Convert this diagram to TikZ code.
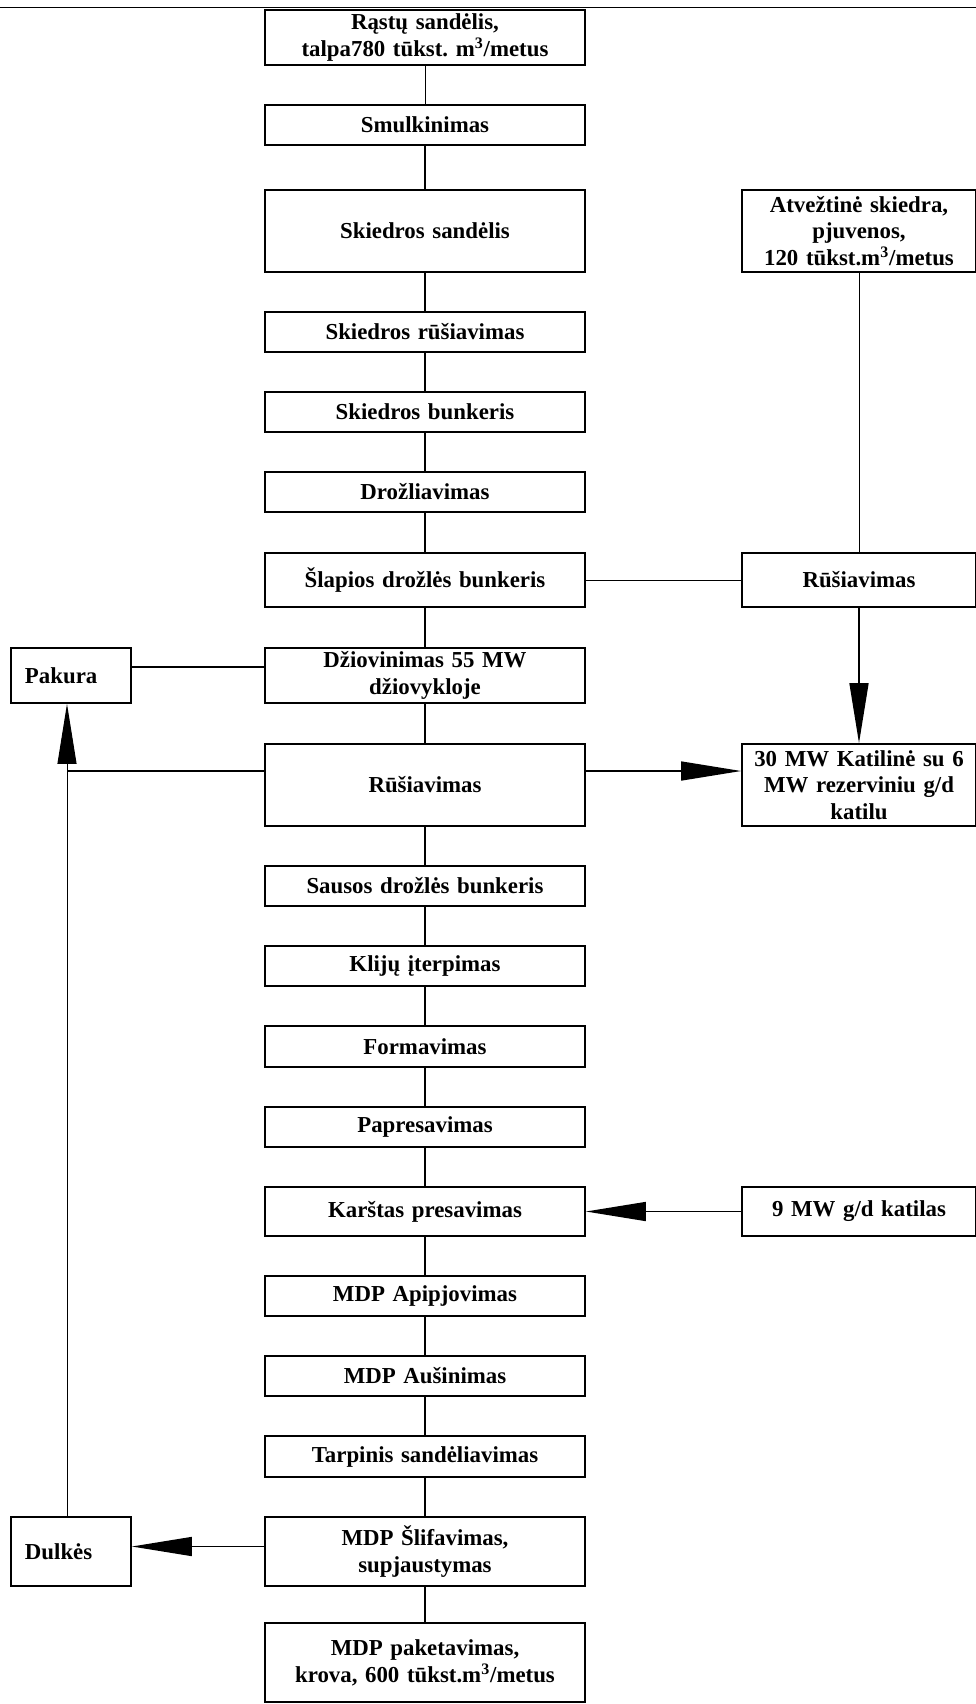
\documentclass[tikz,border=0pt]{standalone}
\usepackage{fontspec}
\setmainfont{Liberation Serif}
\usepackage{tikz}
\usetikzlibrary{arrows.meta, positioning}

\newcommand{\flowfont}{\fontsize{13}{15.2}\selectfont\bfseries}

\begin{document}
\begin{tikzpicture}[
  procbox/.style  = {draw, line width=1pt, text width=6.0cm, inner xsep=0.2cm,
                     inner ysep=0.5pt, minimum height=#1, align=center, font=\flowfont},
  procbox/.default = 0.8cm,
  sidebox/.style  = {draw, line width=1pt, text width=4.28cm, inner xsep=0.2cm,
                     inner ysep=0.5pt, minimum height=#1, align=center, font=\flowfont},
  leftbox/.style  = {draw, line width=1pt, text width=1.84cm, inner xsep=0.28cm,
                     inner ysep=0.5pt, minimum height=#1, align=left, font=\flowfont},
  arr/.style      = {-{Triangle[length=1.2cm, width=0.38cm]}, line width=0.85pt},
  thinarr/.style  = {-{Triangle[length=1.2cm, width=0.38cm]}, line width=0.55pt},
  lin/.style      = {line width=0.85pt},
  thinlin/.style  = {line width=0.55pt},
]
\useasboundingbox (0,0) rectangle (19.52,-34.08);

%% ── virsutine linija ─────────────────────────────────────────────────────
\coordinate (ruleL) at (0,-0.14);
\coordinate (ruleR) at (19.52,-0.14);
\draw[thinlin] (ruleL) -- (ruleR);

%% ── PAGRINDINIS SRAUTAS ──────────────────────────────────────────────────
\node[procbox=1.1cm]  (rastai)   at (8.5,  -0.75) {Rąstų sandėlis,\\talpa780 tūkst.\ m\textsuperscript{3}/metus};
\node[procbox]        (smulk)    at (8.5,  -2.50) {Smulkinimas};
\node[procbox=1.64cm] (skiedsan) at (8.5,  -4.62) {Skiedros sandėlis};
\node[procbox]        (skrus)    at (8.5,  -6.64) {Skiedros rūšiavimas};
\node[procbox]        (skbunk)   at (8.5,  -8.24) {Skiedros bunkeris};
\node[procbox]        (drozl)    at (8.5,  -9.84) {Drožliavimas};
\node[procbox=1.08cm] (slap)     at (8.5, -11.60) {Šlapios drožlės bunkeris};
\node[procbox=1.1cm]  (dziov)    at (8.5, -13.51) {Džiovinimas 55 MW\\džiovykloje};
\node[procbox=1.64cm] (rus)      at (8.5, -15.70) {Rūšiavimas};
\node[procbox]        (saus)     at (8.5, -17.72) {Sausos drožlės bunkeris};
\node[procbox]        (klij)     at (8.5, -19.32) {Klijų įterpimas};
\node[procbox=0.82cm] (form)     at (8.5, -20.93) {Formavimas};
\node[procbox]        (papr)     at (8.5, -22.54) {Papresavimas};
\node[procbox=0.98cm] (karst)    at (8.5, -24.23) {Karštas presavimas};
\node[procbox]        (apip)     at (8.5, -25.92) {MDP Apipjovimas};
\node[procbox]        (ausin)    at (8.5, -27.52) {MDP Aušinimas};
\node[procbox=0.82cm] (tarp)     at (8.5, -29.13) {Tarpinis sandėliavimas};
\node[procbox=1.38cm] (slif)     at (8.5, -31.03) {MDP Šlifavimas,\\supjaustymas};
\node[procbox=1.58cm] (paket)    at (8.5, -33.25) {MDP paketavimas,\\krova, 600 tūkst.m\textsuperscript{3}/metus};

\draw[thinlin] (rastai.south) -- (smulk.north);
\draw[lin] (smulk.south)    -- (skiedsan.north);
\draw[lin] (skiedsan.south) -- (skrus.north);
\draw[lin] (skrus.south)    -- (skbunk.north);
\draw[lin] (skbunk.south)   -- (drozl.north);
\draw[lin] (drozl.south)    -- (slap.north);
\draw[lin] (slap.south)     -- (dziov.north);
\draw[lin] (dziov.south)    -- (rus.north);
\draw[lin] (rus.south)      -- (saus.north);
\draw[lin] (saus.south)     -- (klij.north);
\draw[lin] (klij.south)     -- (form.north);
\draw[lin] (form.south)     -- (papr.north);
\draw[lin] (papr.south)     -- (karst.north);
\draw[lin] (karst.south)    -- (apip.north);
\draw[lin] (apip.south)     -- (ausin.north);
\draw[lin] (ausin.south)    -- (tarp.north);
\draw[lin] (tarp.south)     -- (slif.north);
\draw[lin] (slif.south)     -- (paket.north);

%% ── DESINE PUSE ──────────────────────────────────────────────────────────
\node[sidebox=1.64cm] (atvez)  at (17.18,  -4.62) {Atvežtinė skiedra,\\pjuvenos,\\120 tūkst.m\textsuperscript{3}/metus};
\node[sidebox=1.08cm] (rrus)   at (17.18, -11.60) {Rūšiavimas};
\node[sidebox=1.64cm] (katil)  at (17.18, -15.70) {30 MW Katilinė su 6\\MW rezerviniu g/d\\katilu};
\node[sidebox=0.98cm] (katil9) at (17.18, -24.23) {9 MW g/d katilas};

\draw[thinlin] (atvez.south) -- (rrus.north);
\draw[thinlin] (slap.east) -- (rrus.west);
\draw[arr] (rrus.south) -- (katil.north);
\draw[arr] ([yshift=0.28cm]rus.east) -- ([yshift=0.28cm]katil.west);
\draw[arr] (katil9.west) -- (karst.east);

%% ── KAIRE PUSE ───────────────────────────────────────────────────────────
\node[leftbox=1.1cm]  (pakura) at (1.42, -13.51) {Pakura};
\node[leftbox=1.38cm] (dulkes) at (1.42, -31.03) {Dulkės};

\draw[lin] ([yshift=0.17cm]dziov.west) -- ([yshift=0.17cm]pakura.east);
\draw[arr] ([yshift=0.1cm]slif.west) -- ([yshift=0.1cm]dulkes.east);

%% Grizimas: dulkes ir rusiavimas -> pakura
\coordinate (lvtop) at ([xshift=-0.08cm]pakura.south);
\coordinate (lvbot) at ([xshift=-0.08cm]dulkes.north);
\coordinate (rusw)  at ([yshift=0.28cm]rus.west);
\draw[thinarr] (lvbot) -- (lvtop);
\draw[lin] (rusw) -- (rusw -| lvtop);

\end{tikzpicture}
\end{document}
